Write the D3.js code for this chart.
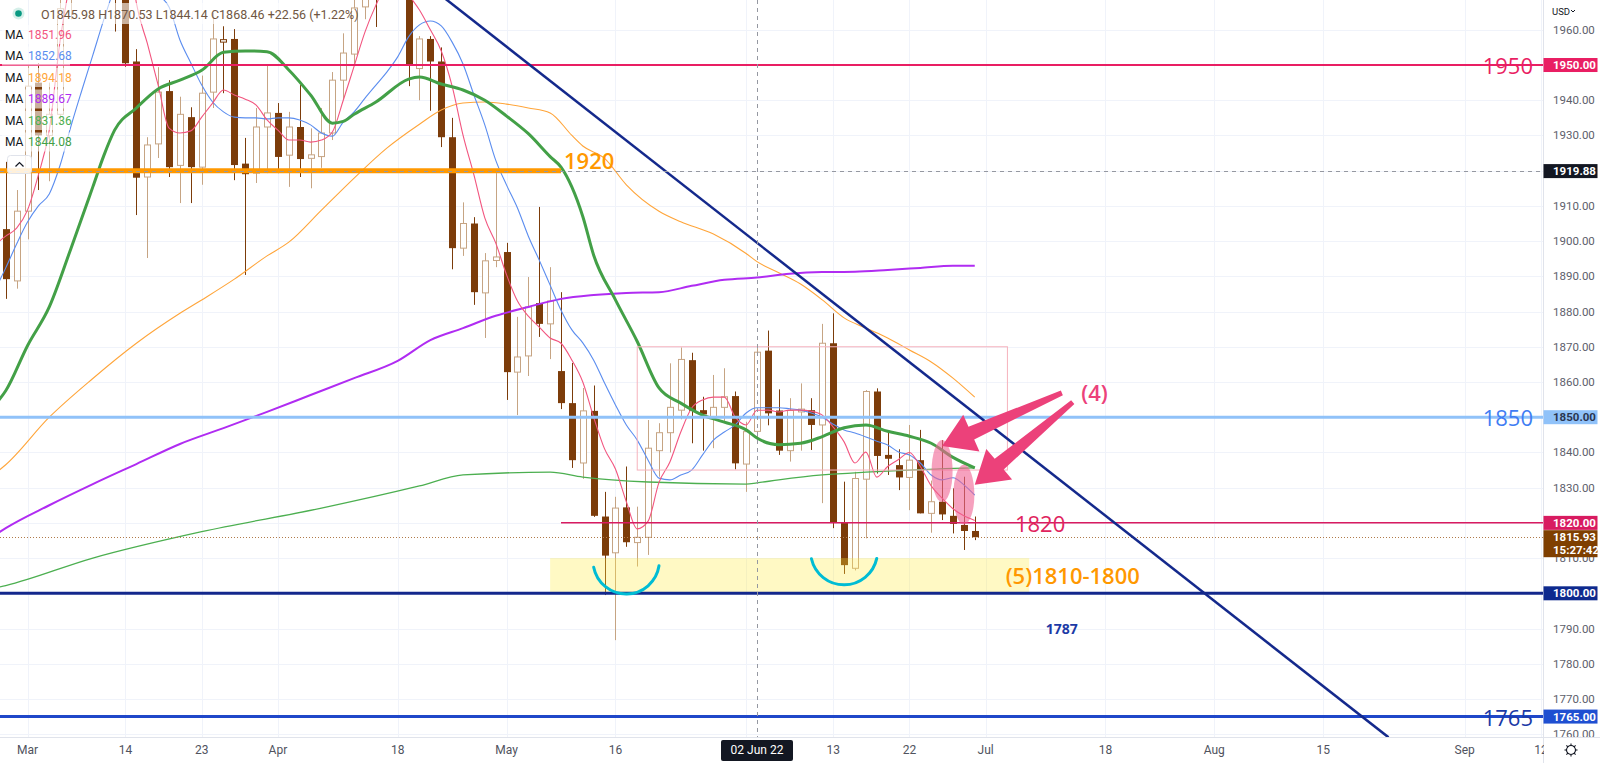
<!DOCTYPE html>
<html>
<head>
<meta charset="utf-8">
<script src="https://cdn.jsdelivr.net/npm/d3@7/dist/d3.min.js"></script>
<style>
  html, body { margin: 0; padding: 0; background: #ffffff; overflow: hidden; }
  svg { display: block; }
  text { font-family: Roboto, "Open Sans", sans-serif; }
</style>
</head>
<body>
<div id="chart"></div>
<script>
// ---- daily candles (XAUUSD) ----
var candleDates = ["2022-02-25","2022-02-28","2022-03-01","2022-03-02","2022-03-03","2022-03-04","2022-03-07","2022-03-08","2022-03-09","2022-03-10","2022-03-11","2022-03-14",
  "2022-03-15","2022-03-16","2022-03-17","2022-03-18","2022-03-21","2022-03-22","2022-03-23","2022-03-24","2022-03-25","2022-03-28","2022-03-29","2022-03-30","2022-03-31",
  "2022-04-01","2022-04-04","2022-04-05","2022-04-06","2022-04-07","2022-04-08","2022-04-11","2022-04-12","2022-04-13","2022-04-14","2022-04-15","2022-04-18","2022-04-19","2022-04-20","2022-04-21","2022-04-22","2022-04-25","2022-04-26","2022-04-27","2022-04-28","2022-04-29",
  "2022-05-02","2022-05-03","2022-05-04","2022-05-05","2022-05-06","2022-05-09","2022-05-10","2022-05-11","2022-05-12","2022-05-13","2022-05-16","2022-05-17","2022-05-18","2022-05-19","2022-05-20","2022-05-23","2022-05-24","2022-05-25","2022-05-26","2022-05-27","2022-05-30","2022-05-31",
  "2022-06-01","2022-06-02","2022-06-03","2022-06-06","2022-06-07","2022-06-08","2022-06-09","2022-06-10","2022-06-13","2022-06-14","2022-06-15","2022-06-16","2022-06-17","2022-06-20","2022-06-21","2022-06-22","2022-06-23","2022-06-24","2022-06-27","2022-06-28","2022-06-29","2022-06-30"];
var opens = [1903.4,1888.7,1908.5,1945.0,1930.0,1936.0,1972.0,1999.0,2050.0,1992.0,1999.0,1988.0,
  1951.0,1918.2,1927.6,1942.6,1921.5,1935.2,1921.0,1942.3,1956.5,1957.4,1922.0,1919.3,1932.4,
  1936.4,1924.4,1932.4,1923.5,1924.0,1930.7,1945.7,1953.1,1966.5,1977.0,1974.0,1975.0,1979.0,1949.0,1957.4,1951.0,1929.5,1898.0,1905.0,1885.3,1894.5,
  1896.9,1862.8,1867.4,1882.4,1876.5,1863.1,1854.0,1837.0,1851.8,1821.8,1811.5,1824.4,1814.4,1815.9,1840.5,1845.6,1852.0,1866.2,1852.0,1850.0,1852.8,1856.0,
  1836.7,1845.98,1868.9,1851.9,1840.5,1851.5,1852.0,1847.8,1871.0,1820.0,1807.1,1832.4,1857.3,1839.3,1836.4,1832.9,1837.8,1822.7,1826.0,1822.0,1819.4,1817.7];
var highs = [1922.5,1914.5,1950.0,1950.5,1945.0,1974.0,2002.0,2070.0,2056.0,2010.0,2009.0,1990.0,
  1954.5,1929.5,1949.4,1945.7,1941.0,1938.0,1947.0,1964.8,1961.0,1960.2,1929.3,1937.8,1950.0,
  1939.2,1936.7,1944.3,1932.0,1937.8,1948.0,1959.0,1970.0,1981.0,1979.0,1980.0,1998.0,1983.0,1958.2,1958.2,1955.0,1935.0,1911.0,1906.8,1896.6,1919.3,
  1899.5,1878.5,1889.8,1909.7,1892.6,1885.5,1865.4,1858.3,1859.0,1828.8,1827.4,1836.0,1824.6,1849.2,1848.3,1865.3,1869.8,1868.3,1855.8,1862.0,1863.9,1857.3,
  1848.7,1870.53,1874.6,1857.9,1855.4,1859.6,1855.4,1876.5,1879.5,1831.7,1834.5,1857.7,1858.2,1845.9,1840.9,1847.8,1846.4,1832.0,1843.5,1829.8,1833.1,1821.8];
var lows = [1883.6,1886.5,1900.5,1914.5,1917.0,1933.0,1963.0,1990.0,1975.0,1976.0,1959.5,1949.5,
  1907.4,1895.2,1923.6,1918.2,1910.8,1910.8,1916.0,1937.8,1942.0,1917.3,1890.4,1916.5,1919.3,
  1919.3,1915.4,1918.2,1915.0,1920.8,1928.7,1940.3,1950.0,1963.0,1960.8,1970.0,1970.0,1944.0,1940.0,1937.0,1926.7,1892.0,1895.8,1881.9,1872.5,1892.6,
  1854.9,1850.6,1861.7,1872.8,1866.5,1852.3,1835.6,1832.5,1821.7,1799.5,1786.7,1813.2,1807.6,1810.9,1833.1,1840.0,1849.4,1842.6,1840.5,1841.2,1848.3,1835.2,
  1828.8,1844.14,1847.7,1839.3,1837.4,1840.5,1840.7,1825.6,1818.5,1805.5,1806.5,1815.6,1834.0,1833.6,1829.3,1823.6,1822.7,1817.2,1820.8,1817.0,1812.3,1815.1];
var closes = [1889.2,1908.5,1944.0,1930.0,1936.0,1966.0,1998.0,2050.0,1992.0,1999.0,1988.0,1950.5,
  1918.0,1927.3,1942.3,1921.0,1936.0,1921.0,1942.0,1957.4,1957.2,1921.6,1919.0,1932.4,1936.4,
  1923.9,1932.4,1923.3,1924.5,1930.7,1945.7,1953.4,1966.2,1977.0,1974.0,1975.0,1979.0,1950.0,1957.4,1951.0,1929.5,1898.0,1905.0,1885.5,1894.4,1895.5,
  1862.8,1867.1,1881.3,1876.5,1883.0,1854.0,1837.8,1851.8,1822.0,1810.7,1824.2,1814.5,1815.9,1841.2,1845.6,1852.8,1866.4,1851.8,1850.8,1852.8,1855.8,1836.9,
  1845.9,1868.46,1851.1,1840.5,1851.9,1852.3,1847.8,1871.0,1820.0,1808.0,1832.6,1857.3,1839.0,1838.2,1832.9,1837.8,1822.7,1826.0,1822.4,1819.7,1817.7,1815.93];

// ---- moving averages: [date, value] ----
var maPink = [["2022-02-24",1899],["2022-02-25",1901.4],["2022-02-28",1903.7],["2022-03-01",1908.8],["2022-03-02",1918.8],["2022-03-03",1931.5],["2022-03-04",1957],["2022-03-07",1975],["2022-03-08",1990],["2022-03-09",2008],["2022-03-10",2018],["2022-03-11",2012],["2022-03-14",1992],
  ["2022-03-15",1967.6],["2022-03-16",1956.2],["2022-03-17",1944.3],["2022-03-18",1932.1],["2022-03-21",1930.7],["2022-03-22",1931.3],["2022-03-23",1935.2],["2022-03-24",1939.2],["2022-03-25",1942.9],["2022-03-28",1941.5],["2022-03-29",1940.3],["2022-03-30",1938.6],["2022-03-31",1934.4],
  ["2022-04-01",1931.5],["2022-04-04",1928.7],["2022-04-05",1928.7],["2022-04-06",1928.1],["2022-04-07",1928.7],["2022-04-08",1931],["2022-04-11",1940],["2022-04-12",1949.7],["2022-04-13",1959.4],["2022-04-14",1967],["2022-04-15",1973],["2022-04-18",1975],["2022-04-19",1970],["2022-04-20",1965.6],["2022-04-21",1960],["2022-04-22",1954],["2022-04-25",1944],["2022-04-26",1930.1],["2022-04-27",1918.8],["2022-04-28",1906.6],["2022-04-29",1899.5],
  ["2022-05-02",1890.4],["2022-05-03",1883],["2022-05-04",1878.7],["2022-05-05",1875.6],["2022-05-06",1872.5],["2022-05-09",1871],["2022-05-10",1866.2],["2022-05-11",1860],["2022-05-12",1850],["2022-05-13",1841],["2022-05-16",1835.3],["2022-05-17",1826],["2022-05-18",1818.3],["2022-05-19",1820.5],["2022-05-20",1831.5],["2022-05-23",1837.3],["2022-05-24",1845.8],["2022-05-25",1852.6],["2022-05-26",1854.9],["2022-05-27",1855.7],["2022-05-30",1855.7],["2022-05-31",1850],
  ["2022-06-01",1847.8],["2022-06-02",1851.96],["2022-06-03",1852],["2022-06-06",1851.5],["2022-06-07",1852],["2022-06-08",1852],["2022-06-09",1851.7],["2022-06-10",1850.6],["2022-06-13",1847.2],["2022-06-14",1843],["2022-06-15",1837],["2022-06-16",1840.1],["2022-06-17",1833],["2022-06-20",1836],["2022-06-21",1838],["2022-06-22",1840],["2022-06-23",1836],["2022-06-24",1830.5],["2022-06-27",1827],["2022-06-28",1824],["2022-06-29",1822],["2022-06-30",1820.7]];
var maBlue = [["2022-02-24",1886],["2022-02-25",1892.4],["2022-02-28",1899.2],["2022-03-01",1905.4],["2022-03-02",1910],["2022-03-03",1913.4],["2022-03-04",1921.6],["2022-03-07",1932.7],["2022-03-08",1942.9],["2022-03-09",1952.8],["2022-03-10",1962.8],["2022-03-11",1972],["2022-03-14",1980],
  ["2022-03-15",1978],["2022-03-16",1974],["2022-03-17",1970],["2022-03-18",1966.5],["2022-03-21",1957.1],["2022-03-22",1950.6],["2022-03-23",1944.3],["2022-03-24",1939.5],["2022-03-25",1936.7],["2022-03-28",1935.2],["2022-03-29",1935],["2022-03-30",1935],["2022-03-31",1934.7],
  ["2022-04-01",1935],["2022-04-04",1935],["2022-04-05",1934.4],["2022-04-06",1933],["2022-04-07",1930.7],["2022-04-08",1929.8],["2022-04-11",1933.8],["2022-04-12",1936.7],["2022-04-13",1940.6],["2022-04-14",1944.3],["2022-04-15",1948],["2022-04-18",1952.3],["2022-04-19",1958],["2022-04-20",1961.4],["2022-04-21",1962.5],["2022-04-22",1961.1],["2022-04-25",1956.5],["2022-04-26",1950.3],["2022-04-27",1941.5],["2022-04-28",1933],["2022-04-29",1923],
  ["2022-05-02",1915.9],["2022-05-03",1909.4],["2022-05-04",1901.4],["2022-05-05",1894.6],["2022-05-06",1887.5],["2022-05-09",1880.4],["2022-05-10",1874.8],["2022-05-11",1871.1],["2022-05-12",1866.2],["2022-05-13",1859.7],["2022-05-16",1853.5],["2022-05-17",1847.8],["2022-05-18",1843.5],["2022-05-19",1837.8],["2022-05-20",1832.7],["2022-05-23",1832.2],["2022-05-24",1833.6],["2022-05-25",1835],["2022-05-26",1839.3],["2022-05-27",1843.5],["2022-05-30",1845.8],["2022-05-31",1847.8],
  ["2022-06-01",1851.2],["2022-06-02",1852.68],["2022-06-03",1852.7],["2022-06-06",1852.7],["2022-06-07",1852.4],["2022-06-08",1852],["2022-06-09",1851.2],["2022-06-10",1850],["2022-06-13",1848],["2022-06-14",1846.4],["2022-06-15",1845.5],["2022-06-16",1844.4],["2022-06-17",1843.2],["2022-06-20",1842.1],["2022-06-21",1840.1],["2022-06-22",1839.3],["2022-06-23",1837],["2022-06-24",1833.6],["2022-06-27",1832.2],["2022-06-28",1832.8],["2022-06-29",1830.8],["2022-06-30",1827.9]];
var maOrange = [["2022-02-24",1834],["2022-02-25",1836.5],["2022-03-03",1850],["2022-03-09",1861],["2022-03-15",1871],["2022-03-21",1879.5],["2022-03-23",1883.3],["2022-03-28",1889.2],["2022-03-31",1895.8],["2022-04-04",1899.7],["2022-04-07",1908.8],["2022-04-12",1917.9],["2022-04-15",1926.4],["2022-04-20",1933.2],["2022-04-22",1937.2],["2022-04-26",1939.2],["2022-04-28",1939.5],
  ["2022-05-02",1938.9],["2022-05-04",1937.8],["2022-05-06",1936.4],["2022-05-10",1930],["2022-05-11",1927],["2022-05-13",1923.5],["2022-05-17",1916],["2022-05-20",1908.5],["2022-05-24",1905.5],["2022-05-27",1902],["2022-06-01",1896.5],["2022-06-02",1894.18],["2022-06-06",1891],["2022-06-08",1887.8],["2022-06-10",1883.3],["2022-06-14",1878.2],["2022-06-16",1875.3],["2022-06-20",1872.5],["2022-06-22",1869.1],["2022-06-24",1865.7],["2022-06-28",1861.1],["2022-06-30",1855.7]];
var maPurple = [["2022-02-24",1816.5],["2022-02-25",1818.5],["2022-03-03",1825],["2022-03-09",1831],["2022-03-15",1836.7],["2022-03-21",1842.4],["2022-03-25",1846.9],["2022-03-31",1851.5],["2022-04-06",1856.3],["2022-04-12",1861.1],["2022-04-18",1866],["2022-04-21",1871.9],["2022-04-26",1875.3],["2022-04-29",1878.8],
  ["2022-05-04",1881.3],["2022-05-09",1883.6],["2022-05-12",1884.7],["2022-05-17",1885.3],["2022-05-20",1885.5],["2022-05-25",1887.3],["2022-05-30",1889],["2022-06-02",1889.67],["2022-06-07",1890.7],["2022-06-10",1891.2],["2022-06-15",1891.3],["2022-06-20",1891.8],["2022-06-23",1892.4],["2022-06-28",1893],["2022-06-30",1893]];
var maGreenThin = [["2022-02-24",1801.5],["2022-02-25",1802.2],["2022-03-09",1810],["2022-03-23",1817.5],["2022-04-07",1824.2],["2022-04-20",1830.5],["2022-04-26",1833.6],["2022-05-06",1834.4],["2022-05-11",1833],["2022-05-19",1831.6],["2022-06-01",1831],["2022-06-02",1831.36],["2022-06-06",1832.2],["2022-06-10",1833.6],["2022-06-16",1834.4],["2022-06-22",1835],["2022-06-30",1835.6]];
var maGreenThick = [["2022-02-24",1853.5],["2022-02-25",1857.5],["2022-03-01",1870.3],["2022-03-03",1881.3],["2022-03-07",1898],["2022-03-09",1915.4],["2022-03-10",1924.2],["2022-03-11",1931.5],["2022-03-15",1937.8],["2022-03-17",1943.2],["2022-03-21",1945.7],["2022-03-23",1948.5],["2022-03-25",1953.6],["2022-03-29",1954],["2022-03-31",1953.8],
  ["2022-04-04",1948.6],["2022-04-06",1941.5],["2022-04-08",1933.5],["2022-04-11",1934],["2022-04-12",1936],["2022-04-14",1939.5],["2022-04-19",1946],["2022-04-20",1946.6],["2022-04-22",1944.6],["2022-04-26",1942.9],["2022-04-28",1940],["2022-05-02",1935.5],["2022-05-04",1930.5],["2022-05-06",1924],["2022-05-09",1921],
  ["2022-05-11",1907],["2022-05-12",1896],["2022-05-16",1883.3],["2022-05-18",1871.5],["2022-05-20",1858.3],["2022-05-24",1854],["2022-05-26",1850.6],["2022-05-30",1848.6],["2022-06-01",1846.4],["2022-06-02",1844.08],["2022-06-06",1842.2],["2022-06-08",1842.6],["2022-06-10",1844.5],["2022-06-14",1847],["2022-06-16",1847.8],["2022-06-20",1846],["2022-06-22",1844.6],["2022-06-24",1842.6],["2022-06-28",1838.6],["2022-06-30",1835.6]];

// ---- axis ticks ----
var priceTicks = [1760,1770,1780,1790,1800,1810,1820,1830,1840,1850,1860,1870,1880,1890,1900,1910,1920,1930,1940,1950,1960];
var timeTicks = [["Mar","2022-03-01"],["14","2022-03-14"],["23","2022-03-23"],["Apr","2022-04-01"],["18","2022-04-18"],["May","2022-05-02"],["16","2022-05-16"],["Jun","2022-06-01"],
  ["13","2022-06-13"],["22","2022-06-22"],["Jul","2022-07-01"],["18","2022-07-18"],["Aug","2022-08-01"],["15","2022-08-15"],["Sep","2022-09-01"],["12","2022-09-12"]];

// ---- drawings ----
var keyLevels = [1950, 1920, 1850, 1820, 1800, 1765];
var priceTags = [1950, 1919.88, 1850, 1820, 1815.93, 1800, 1765];
var trendLine = [["2022-04-12", 1989.1], ["2022-08-23", 1759.1]];
var rangeBox = [["2022-05-18", 1870], ["2022-07-05", 1835]];
var supportZone = [["2022-05-06", 1810], ["2022-07-07", 1800]];
var bottoms = [[["2022-05-12",1807.4],["2022-05-17",1799.8],["2022-05-20",1807.8]],
               [["2022-06-09",1809.8],["2022-06-14",1802.4],["2022-06-17",1809.9]]];
var waveMarks = [["2022-06-27", 1834.7, 8.8], ["2022-06-29", 1828.0, 8.5]];
var arrows = [[["2022-07-12",1856.9],["2022-06-27",1841.8]], [["2022-07-13",1854.3],["2022-06-30",1830.8]]];
var crossDate = "2022-06-02", crossPrice = 1919.88, lastPrice = 1815.93;
var legendOHLC = ["1845.98", "1870.53", "1844.14", "1868.46", "+22.56 (+1.22%)"];
var maLegend = ["1851.96", "1852.68", "1894.18", "1889.67", "1831.36", "1844.08"];

// ---------------------------------------------------------------
var W = 1600, H = 763, plotW = 1543, plotH = 737;
var UP = "#c6a483", DOWN = "#7c3c0a";

var day0 = Date.UTC(2022, 2, 1);
function tradingIndex(s) {
    var target = Date.parse(s + "T00:00:00Z");
    var step = target >= day0 ? 1 : -1, n = 0, t = new Date(day0);
    while (t.getTime() !== target) {
        t.setUTCDate(t.getUTCDate() + step);
        var wd = t.getUTCDay();
        if (wd !== 0 && wd !== 6) n += step;
    }
    return n;
}

var x = d3.scaleLinear().domain([-2.526, 139.19]).range([0, plotW]);
var y = d3.scaleLinear().domain([1759.2, 1968.46]).range([plotH, 0]);
function xd(d) { return x(tradingIndex(d)); }

var svg = d3.select("#chart").append("svg").attr("width", W).attr("height", H);
svg.append("rect").attr("width", W).attr("height", H).attr("fill", "#fff");
svg.append("defs").append("clipPath").attr("id", "plotClip")
    .append("rect").attr("width", plotW).attr("height", plotH);

var plot = svg.append("g").attr("clip-path", "url(#plotClip)");

// grid
plot.selectAll(".hgrid").data(priceTicks).enter().append("line")
    .attr("x1", 0).attr("x2", plotW)
    .attr("y1", function (d) { return Math.round(y(d)) + 0.5; })
    .attr("y2", function (d) { return Math.round(y(d)) + 0.5; })
    .attr("stroke", "#f0f3fa");
plot.selectAll(".vgrid").data(timeTicks).enter().append("line")
    .attr("x1", function (d) { return Math.round(xd(d[1])) + 0.5; })
    .attr("x2", function (d) { return Math.round(xd(d[1])) + 0.5; })
    .attr("y1", 0).attr("y2", plotH)
    .attr("stroke", "#f0f3fa");

// candles
var bars = candleDates.map(function (d, k) {
    return { date: d, o: opens[k], h: highs[k], l: lows[k], c: closes[k], pc: k > 0 ? closes[k - 1] : opens[k] };
});
var candle = plot.selectAll(".candle").data(bars).enter().append("g");
candle.each(function (b) {
    var g = d3.select(this);
    var cx = Math.round(xd(b.date)) + 0.5;
    var col = b.c >= b.pc ? UP : DOWN;
    var top = y(Math.max(b.o, b.c)), bot = y(Math.min(b.o, b.c));
    g.append("line").attr("x1", cx).attr("x2", cx).attr("y1", y(b.h)).attr("y2", y(b.l))
        .attr("stroke", col).attr("stroke-width", 1);
    if (b.c < b.o) {
        g.append("rect").attr("x", cx - 3.5).attr("width", 7)
            .attr("y", top).attr("height", Math.max(1, bot - top)).attr("fill", col);
    } else {
        g.append("rect").attr("x", cx - 3).attr("width", 6)
            .attr("y", top).attr("height", Math.max(1, bot - top))
            .attr("fill", "#fff").attr("stroke", col).attr("stroke-width", 1);
    }
});

// moving averages
var maLine = d3.line()
    .x(function (d) { return xd(d[0]); })
    .y(function (d) { return y(d[1]); })
    .curve(d3.curveMonotoneX);
var maStyles = [
    [maGreenThin, "#4caf50", 1.3],
    [maOrange, "#ffa53a", 1.1],
    [maPurple, "#b02cf2", 2],
    [maBlue, "#5b8def", 1.1],
    [maPink, "#f2557f", 1.1],
    [maGreenThick, "#43a047", 3]
];
maStyles.forEach(function (s) {
    plot.append("path").datum(s[0]).attr("d", maLine)
        .attr("fill", "none").attr("stroke", s[1]).attr("stroke-width", s[2])
        .attr("stroke-linejoin", "round");
});

// pink consolidation box
plot.append("rect")
    .attr("x", xd(rangeBox[0][0])).attr("y", y(rangeBox[0][1]))
    .attr("width", xd(rangeBox[1][0]) - xd(rangeBox[0][0]))
    .attr("height", y(rangeBox[1][1]) - y(rangeBox[0][1]))
    .attr("fill", "none").attr("stroke", "#f6b2bc").attr("stroke-width", 1);

// yellow support zone
plot.append("rect")
    .attr("x", xd(supportZone[0][0])).attr("y", y(supportZone[0][1]))
    .attr("width", xd(supportZone[1][0]) - xd(supportZone[0][0]))
    .attr("height", y(supportZone[1][1]) - y(supportZone[0][1]))
    .attr("fill", "#ffeb3b").attr("fill-opacity", 0.3);

// horizontal levels
var levelStyle = {
    1950: { color: "#e91e63", w: 2 },
    1920: { color: "#ff9800", w: 5, to: "2022-05-09" },
    1850: { color: "#90c2f9", w: 3 },
    1820: { color: "#d81b60", w: 1.5, from: "2022-05-09" },
    1800: { color: "#13288c", w: 3 },
    1765: { color: "#1f47c9", w: 3 }
};
keyLevels.forEach(function (p) {
    var s = levelStyle[p];
    plot.append("line")
        .attr("x1", s.from ? xd(s.from) : 0).attr("x2", s.to ? xd(s.to) : plotW)
        .attr("y1", y(p)).attr("y2", y(p))
        .attr("stroke", s.color).attr("stroke-width", s.w);
});

// last price dotted line
plot.append("line").attr("x1", 0).attr("x2", plotW)
    .attr("y1", Math.round(y(lastPrice)) + 0.5).attr("y2", Math.round(y(lastPrice)) + 0.5)
    .attr("stroke", "#b07a4a").attr("stroke-width", 1).attr("stroke-dasharray", "1,2");

// descending trend line
plot.append("line")
    .attr("x1", xd(trendLine[0][0])).attr("y1", y(trendLine[0][1]))
    .attr("x2", xd(trendLine[1][0])).attr("y2", y(trendLine[1][1]))
    .attr("stroke", "#14298c").attr("stroke-width", 2.5);

// cyan double-bottom arcs
function arcThrough(p1, p2, p3) {
    var ax = p1[0], ay = p1[1], bx = p2[0], by = p2[1], cx = p3[0], cy = p3[1];
    var d = 2 * (ax * (by - cy) + bx * (cy - ay) + cx * (ay - by));
    var ux = ((ax * ax + ay * ay) * (by - cy) + (bx * bx + by * by) * (cy - ay) + (cx * cx + cy * cy) * (ay - by)) / d;
    var uy = ((ax * ax + ay * ay) * (cx - bx) + (bx * bx + by * by) * (ax - cx) + (cx * cx + cy * cy) * (bx - ax)) / d;
    var r = Math.hypot(ax - ux, ay - uy);
    return "M" + ax + "," + ay + "A" + r + "," + r + " 0 0 0 " + cx + "," + cy;
}
bottoms.forEach(function (a) {
    var pts = a.map(function (p) { return [xd(p[0]), y(p[1])]; });
    plot.append("path").attr("d", arcThrough(pts[0], pts[1], pts[2]))
        .attr("fill", "none").attr("stroke", "#00bcd4").attr("stroke-width", 3).attr("stroke-linecap", "round");
});

// pink wave ellipses
waveMarks.forEach(function (m) {
    plot.append("ellipse")
        .attr("cx", xd(m[0])).attr("cy", y(m[1]))
        .attr("rx", 10.5).attr("ry", y(m[1] - m[2]) - y(m[1]))
        .attr("fill", "#f06292").attr("fill-opacity", 0.6);
});

// pink arrows
function arrowPath(t, p) {
    var dx = p[0] - t[0], dy = p[1] - t[1], len = Math.hypot(dx, dy);
    var ux = dx / len, uy = dy / len, nx = -uy, ny = ux;
    var headL = 32, headW = 20, w0 = 2.5, w1 = 7;
    var bx = p[0] - ux * headL, by = p[1] - uy * headL;
    var pts = [[t[0] + nx * w0, t[1] + ny * w0], [bx + nx * w1, by + ny * w1], [bx + nx * headW, by + ny * headW], p,
               [bx - nx * headW, by - ny * headW], [bx - nx * w1, by - ny * w1], [t[0] - nx * w0, t[1] - ny * w0]];
    return "M" + pts.map(function (q) { return q[0] + "," + q[1]; }).join("L") + "Z";
}
arrows.forEach(function (a) {
    plot.append("path")
        .attr("d", arrowPath([xd(a[0][0]), y(a[0][1])], [xd(a[1][0]), y(a[1][1])]))
        .attr("fill", "#ec417a");
});

// text annotations
function note(txt, px, py, color, size, weight, anchor) {
    plot.append("text").attr("x", px).attr("y", py)
        .attr("text-anchor", anchor || "middle").attr("dominant-baseline", "central")
        .attr("fill", color).attr("font-size", size).attr("font-weight", weight || 400)
        .style("font-family", "'Open Sans', sans-serif")
        .text(txt);
}
function levelNote(txt, py, color) {
    plot.append("text").attr("x", plotW - 10).attr("y", py)
        .attr("text-anchor", "end").attr("dominant-baseline", "central")
        .attr("fill", color).attr("font-size", 22)
        .style("font-family", "'Open Sans', sans-serif").text(txt);
}
levelNote("1950", y(1950), "#e91e63");
levelNote("1850", y(1850), "#3f7df3");
levelNote("1765", y(1765), "#1c3aa6");
note("1920", xd("2022-05-09") + 3, y(1920) - 11, "#ff9800", 22, 600, "start");
note("1820", xd("2022-07-08"), y(1820), "#e0245e", 22, 400);
note("(5)1810-1800", xd("2022-07-13"), y(1805.3), "#ff9800", 22, 600);
note("(4)", xd("2022-07-15"), y(1857.2), "#ec417a", 22, 600);
note("1787", xd("2022-07-12"), y(1789.9), "#1c3aa6", 14, 700);

// crosshair
plot.append("line").attr("x1", 0).attr("x2", plotW)
    .attr("y1", Math.round(y(crossPrice)) + 0.5).attr("y2", Math.round(y(crossPrice)) + 0.5)
    .attr("stroke", "#9598a1").attr("stroke-dasharray", "4,4");
plot.append("line").attr("y1", 0).attr("y2", plotH)
    .attr("x1", Math.round(xd(crossDate)) + 0.5).attr("x2", Math.round(xd(crossDate)) + 0.5)
    .attr("stroke", "#9598a1").attr("stroke-dasharray", "4,4");

// legend
var legend = svg.append("g");
legend.append("rect").attr("x", 34).attr("y", 3).attr("width", 312).attr("height", 21)
    .attr("fill", "#fff").attr("fill-opacity", 0.6);
legend.append("circle").attr("cx", 18.5).attr("cy", 13.5).attr("r", 6).attr("fill", "#d5efe9");
legend.append("circle").attr("cx", 18.5).attr("cy", 13.5).attr("r", 3.3).attr("fill", "#089981");
var ohlcText = legend.append("text").attr("x", 41).attr("y", 14).attr("dominant-baseline", "central")
    .attr("font-size", 12.5).attr("fill", "#6f5642");
["O", "H", "L", "C", ""].forEach(function (k, i) {
    ohlcText.append("tspan").text((i ? " " : "") + k);
    ohlcText.append("tspan").text(legendOHLC[i]);
});
var maColors = ["#f2557f", "#5b8def", "#ffa53a", "#b02cf2", "#4caf50", "#43a047"];
maLegend.forEach(function (v, i) {
    var ry = 34.5 + i * 21.5;
    legend.append("rect").attr("x", 2).attr("y", ry - 9.5).attr("width", 68).attr("height", 19)
        .attr("fill", "#fff").attr("fill-opacity", 0.6);
    legend.append("text").attr("x", 5).attr("y", ry).attr("dominant-baseline", "central")
        .attr("font-size", 12).attr("fill", "#131722").text("MA");
    legend.append("text").attr("x", 28).attr("y", ry).attr("dominant-baseline", "central")
        .attr("font-size", 12).attr("fill", maColors[i]).text(v);
});
legend.append("rect").attr("x", 7.5).attr("y", 155.5).attr("width", 24).attr("height", 18).attr("rx", 3)
    .attr("fill", "#fff").attr("fill-opacity", 0.85).attr("stroke", "#e0e3eb");
legend.append("path").attr("d", "M15.5,166.5L19.5,162.5L23.5,166.5")
    .attr("fill", "none").attr("stroke", "#131722").attr("stroke-width", 1.2);

// price axis
var pAxis = svg.append("g");
pAxis.append("rect").attr("x", plotW).attr("y", 0).attr("width", W - plotW).attr("height", H).attr("fill", "#fff");
pAxis.append("line").attr("x1", plotW + 0.5).attr("x2", plotW + 0.5).attr("y1", 0).attr("y2", H).attr("stroke", "#e0e3eb");
svg.append("defs").append("clipPath").attr("id", "axisClip")
    .append("rect").attr("x", plotW).attr("width", W - plotW).attr("height", plotH);
var pLabels = pAxis.append("g").attr("clip-path", "url(#axisClip)");
pLabels.selectAll(".ptick").data(priceTicks).enter().append("text")
    .attr("x", plotW + 10).attr("y", function (d) { return y(d); })
    .attr("dominant-baseline", "central").attr("font-size", 11.5).attr("fill", "#5d606b")
    .text(function (d) { return d.toFixed(2); });
var tagStyle = {
    1950: ["#e91e63", "#fff"], 1919.88: ["#131722", "#fff"], 1850: ["#90c2f9", "#2a3550"],
    1820: ["#d81b60", "#fff"], 1815.93: ["#7f3f00", "#fff"], 1800: ["#0e2a8e", "#fff"], 1765: ["#1f4fd1", "#fff"]
};
priceTags.forEach(function (p) {
    var s = tagStyle[p];
    var cy = y(p);
    var isLast = p === lastPrice;
    var h = isLast ? 27 : 14;
    pLabels.append("rect").attr("x", plotW + 0.5).attr("y", cy - 7).attr("width", 54).attr("height", h)
        .attr("fill", s[0]);
    pLabels.append("text").attr("x", plotW + 10).attr("y", cy).attr("dominant-baseline", "central")
        .attr("font-size", 11.5).attr("font-weight", 700).attr("fill", s[1]).text(p.toFixed(2));
    if (isLast) {
        pLabels.append("text").attr("x", plotW + 10).attr("y", cy + 13).attr("dominant-baseline", "central")
            .attr("font-size", 11.5).attr("font-weight", 700).attr("fill", s[1]).text("15:27:42");
    }
});
pAxis.append("text").attr("x", plotW + 9).attr("y", 11).attr("dominant-baseline", "central")
    .attr("font-size", 9.5).attr("fill", "#131722").text("USD");
pAxis.append("path").attr("d", "M1571,10L1573,12L1575,10").attr("fill", "none").attr("stroke", "#131722");

// time axis
var tAxis = svg.append("g");
tAxis.append("rect").attr("x", 0).attr("y", plotH).attr("width", plotW).attr("height", H - plotH).attr("fill", "#fff");
tAxis.append("line").attr("x1", 0).attr("x2", W).attr("y1", plotH + 0.5).attr("y2", plotH + 0.5).attr("stroke", "#e0e3eb");
var cxd = xd(crossDate);
// labels hidden under the crosshair date box are left out, as on screen
tAxis.selectAll(".ttick").data(timeTicks.filter(function (d) { return Math.abs(xd(d[1]) - cxd) > 40; }))
    .enter().append("text")
    .attr("x", function (d) { return xd(d[1]); }).attr("y", 750)
    .attr("text-anchor", "middle").attr("dominant-baseline", "central")
    .attr("font-size", 12).attr("fill", "#50535e")
    .text(function (d) { return d[0]; });
// cover the part of the time axis under the price scale
svg.append("rect").attr("x", plotW + 1).attr("y", plotH + 1).attr("width", W - plotW).attr("height", H - plotH).attr("fill", "#fff");
tAxis.append("rect").attr("x", cxd - 36).attr("y", plotH + 3).attr("width", 72).attr("height", 21).attr("rx", 2).attr("fill", "#131722");
tAxis.append("text").attr("x", cxd).attr("y", 750).attr("text-anchor", "middle").attr("dominant-baseline", "central")
    .attr("font-size", 12).attr("fill", "#fff").text("02 Jun 22");

// settings gear
var gear = svg.append("g").attr("transform", "translate(1571,750)");
gear.append("circle").attr("r", 4.5).attr("fill", "none").attr("stroke", "#131722").attr("stroke-width", 1.1);
d3.range(8).forEach(function (k) {
    var a = k * Math.PI / 4;
    gear.append("line").attr("x1", Math.cos(a) * 4.5).attr("y1", Math.sin(a) * 4.5)
        .attr("x2", Math.cos(a) * 6.5).attr("y2", Math.sin(a) * 6.5)
        .attr("stroke", "#131722").attr("stroke-width", 1.1);
});
</script>
</body>
</html>
